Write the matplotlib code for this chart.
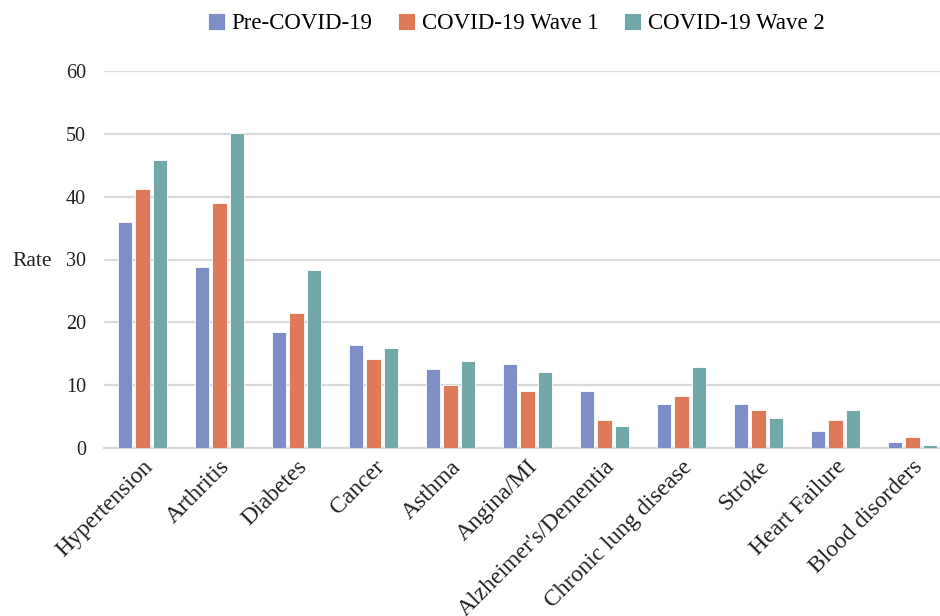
import numpy as np
import matplotlib
matplotlib.use("Agg")
import matplotlib.pyplot as plt

# Data
categories = ["Hypertension", "Arthritis", "Diabetes", "Cancer", "Asthma", "Angina/MI",
              "Alzheimer's/Dementia", "Chronic lung disease", "Stroke", "Heart Failure",
              "Blood disorders"]
pre_covid = [36.0, 28.8, 18.5, 16.4, 12.6, 13.4, 9.1, 7.0, 7.0, 2.7, 1.0]
wave_1 = [41.2, 39.0, 21.5, 14.2, 10.0, 9.1, 4.5, 8.3, 6.1, 4.5, 1.8]
wave_2 = [45.9, 50.2, 28.3, 15.9, 13.9, 12.1, 3.5, 12.9, 4.8, 6.1, 0.5]
series_names = ["Pre-COVID-19", "COVID-19 Wave 1", "COVID-19 Wave 2"]
colors = ["#7F8EC7", "#DE7A5A", "#72A9A8"]

plt.rcParams['font.family'] = ['Liberation Serif', 'DejaVu Serif']

fig = plt.figure(figsize=(9.4, 6.16), dpi=100)
ax = fig.add_axes([104 / 940, 1 - 448 / 616, 847 / 940, (448 - 71) / 616])

x = np.arange(len(categories))
step = 0.227
width = 0.185
for i, (vals, name, col) in enumerate(zip([pre_covid, wave_1, wave_2], series_names, colors)):
    ax.bar(x + (i - 1) * step, vals, width=width, color=col, label=name,
           edgecolor="white", linewidth=0.6, zorder=3)

ax.set_xlim(-0.5, len(categories) - 0.5)
ax.set_ylim(0, 60)
ax.set_yticks(range(0, 61, 10))
ax.yaxis.grid(True, color="#d9d9d9", linewidth=1.6, zorder=0)
ax.set_axisbelow(True)
for s in ["top", "right", "left"]:
    ax.spines[s].set_visible(False)
ax.spines["bottom"].set_color("#d9d9d9")
ax.spines["bottom"].set_linewidth(1.6)
ax.tick_params(axis="both", length=0, colors="#222222")
ax.tick_params(axis="y", pad=13, labelsize=14.5)

ax.set_xticks(x)
ax.set_xticklabels(categories, rotation=45, ha="right", rotation_mode="anchor")
ax.tick_params(axis="x", pad=6, labelsize=17)

ax.set_ylabel("Rate", rotation=0, fontsize=15.5, color="#222222")
ax.yaxis.set_label_coords(-0.085, 0.47)

fig.legend(loc="center", bbox_to_anchor=(0.549, 0.962), ncol=3, frameon=False,
           fontsize=16.5, handlelength=0.75, handleheight=0.75, handletextpad=0.3,
           columnspacing=1.1)

fig.savefig("out.png", dpi=100)
